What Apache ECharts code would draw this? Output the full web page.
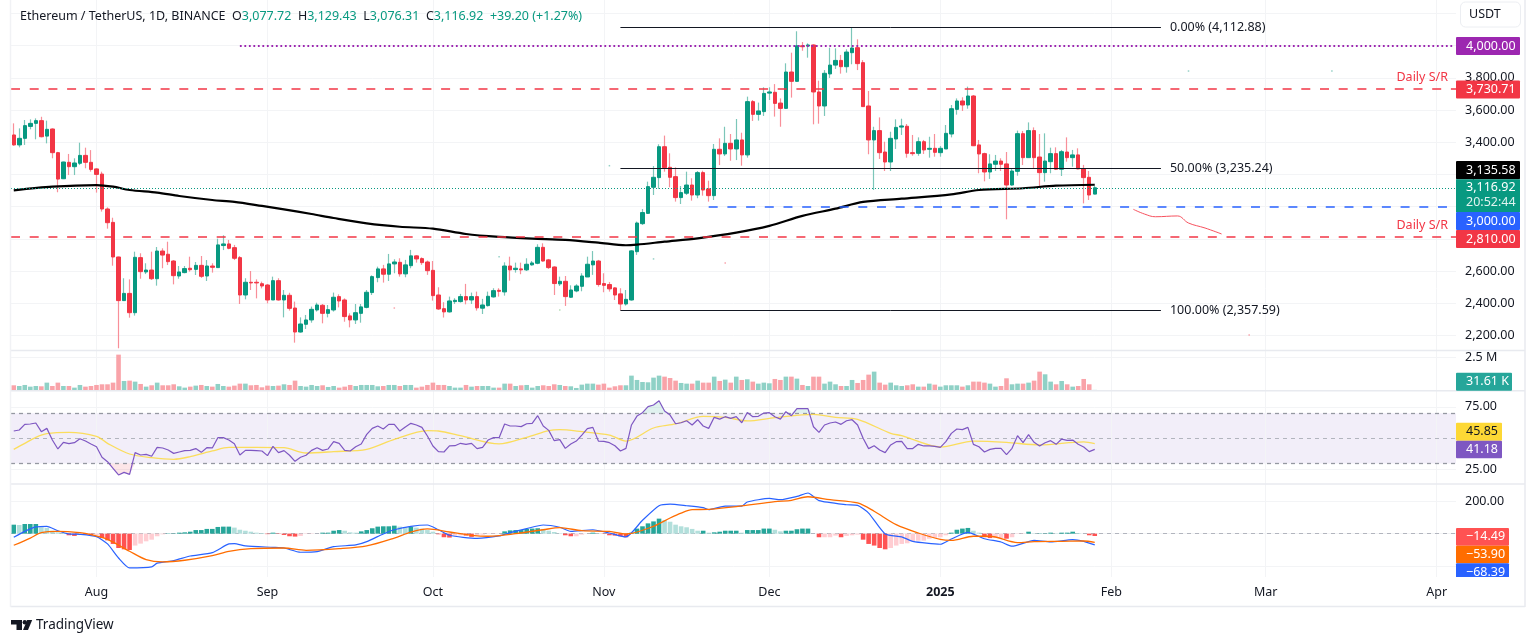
<!DOCTYPE html>
<html>
<head>
<meta charset="utf-8">
<title>ETHUSDT</title>
<script src="https://cdn.jsdelivr.net/npm/echarts@6/dist/echarts.min.js"></script>
<style>
html,body{margin:0;padding:0;background:#fff}
#chart{width:1536px;height:644px}
</style>
</head>
<body>
<div id="chart"></div>
<script>
// open, close, low, high - one row per day from 2024-07-17
let candles = [
[3445,3383,3378,3517],[3383,3424,3368,3486],[3424,3503,3383,3538],[3498,3517,3480,3542],[3517,3534,3418,3548],
[3534,3434,3430,3558],[3438,3480,3393,3534],[3482,3335,3300,3486],[3335,3171,3089,3340],[3173,3277,3171,3279],
[3275,3248,3196,3327],[3248,3271,3196,3300],[3269,3318,3258,3397],[3318,3275,3238,3366],[3275,3231,3217,3351],
[3234,3200,3087,3238],[3202,2985,2969,3217],[2985,2900,2863,2995],[2902,2687,2633,2931],[2687,2416,2120,2689],
[2416,2461,2414,2555],[2461,2341,2310,2548],[2341,2685,2323,2720],[2683,2596,2552,2710],[2594,2606,2581,2648],
[2606,2552,2544,2720],[2552,2724,2509,2749],[2724,2699,2617,2741],[2704,2658,2637,2782],[2662,2571,2517,2668],
[2569,2594,2552,2631],[2590,2615,2586,2631],[2617,2608,2596,2689],[2610,2635,2575,2656],[2635,2567,2557,2693],
[2569,2631,2538,2668],[2631,2623,2590,2648],[2621,2762,2621,2801],[2758,2768,2730,2822],[2768,2741,2735,2793],
[2745,2679,2668,2762],[2683,2451,2395,2693],[2451,2530,2424,2555],[2530,2526,2482,2600],[2530,2526,2430,2548],
[2521,2507,2492,2534],[2513,2420,2399,2519],[2420,2540,2420,2565],[2540,2420,2416,2555],[2420,2449,2312,2482],
[2449,2368,2354,2465],[2370,2221,2155,2410],[2221,2271,2217,2312],[2269,2296,2240,2327],[2296,2362,2279,2379],
[2358,2389,2348,2403],[2387,2337,2275,2395],[2337,2360,2312,2389],[2358,2437,2348,2466],[2441,2414,2374,2455],
[2420,2317,2285,2430],[2321,2296,2250,2337],[2296,2341,2271,2395],[2337,2377,2279,2395],[2374,2468,2368,2482],
[2466,2565,2451,2573],[2559,2613,2530,2627],[2613,2580,2528,2638],[2580,2644,2538,2706],[2644,2656,2586,2673],
[2654,2582,2565,2679],[2582,2638,2561,2669],[2633,2694,2617,2731],[2694,2675,2652,2698],[2677,2652,2638,2685],
[2656,2602,2576,2665],[2604,2447,2416,2662],[2451,2364,2358,2499],[2366,2346,2311,2406],[2346,2414,2342,2441],
[2410,2418,2395,2431],[2410,2441,2404,2458],[2441,2420,2393,2520],[2420,2441,2395,2466],[2441,2371,2354,2472],
[2369,2389,2333,2427],[2385,2443,2379,2472],[2439,2478,2435,2493],[2480,2474,2441,2493],[2470,2631,2447,2654],
[2631,2607,2540,2689],[2609,2617,2590,2652],[2613,2607,2580,2652],[2607,2642,2600,2679],[2638,2650,2633,2662],
[2648,2747,2642,2766],[2747,2662,2658,2772],[2669,2621,2613,2675],[2625,2522,2451,2629],[2520,2536,2507,2565],
[2536,2441,2383,2569],[2437,2482,2433,2511],[2476,2507,2468,2518],[2505,2569,2474,2586],[2563,2642,2563,2689],
[2638,2662,2576,2724],[2662,2516,2503,2669],[2522,2511,2468,2586],[2516,2489,2472,2532],[2495,2451,2420,2499],
[2458,2395,2356,2493],[2395,2424,2385,2482],[2420,2725,2416,2729],[2720,2898,2700,2907],[2894,2963,2886,2985],
[2958,3124,2954,3155],[3120,3182,3072,3252],[3180,3372,3110,3387],[3372,3242,3217,3441],[3244,3182,3120,3331],
[3186,3056,3031,3244],[3056,3087,3016,3128],[3083,3134,3072,3217],[3134,3072,3037,3176],[3072,3211,3052,3221],
[3211,3103,3068,3223],[3110,3068,3031,3161],[3068,3356,3041,3389],[3356,3327,3258,3424],[3327,3393,3314,3496],
[3393,3358,3285,3451],[3358,3414,3289,3544],[3414,3321,3254,3459],[3321,3652,3304,3683],[3652,3573,3532,3662],
[3573,3594,3534,3646],[3590,3703,3563,3741],[3705,3712,3662,3741],[3710,3641,3559,3761],[3643,3610,3496,3672],
[3610,3836,3606,3890],[3836,3778,3677,3956],[3778,3999,3776,4089],[3999,3993,3968,4022],[3997,4004,3925,4014],
[4004,3712,3511,4008],[3712,3625,3515,3782],[3625,3828,3563,3848],[3824,3879,3799,3987],[3879,3908,3855,3983],
[3908,3869,3826,3942],[3869,3960,3832,3977],[3956,3985,3884,4113],[3987,3888,3848,4039],[3894,3621,3621,3910],
[3625,3414,3325,3718],[3414,3472,3103,3496],[3472,3335,3296,3554],[3339,3277,3221,3403],[3277,3424,3221,3465],
[3420,3492,3358,3542],[3494,3501,3445,3546],[3499,3331,3304,3513],[3335,3329,3316,3445],[3331,3403,3316,3430],
[3403,3352,3327,3414],[3356,3362,3304,3434],[3362,3337,3310,3451],[3335,3362,3310,3376],[3358,3455,3358,3507],
[3451,3608,3430,3631],[3604,3656,3571,3672],[3656,3631,3594,3679],[3631,3687,3608,3745],[3687,3378,3376,3693],
[3383,3327,3207,3414],[3329,3215,3157,3335],[3215,3265,3172,3325],[3263,3283,3221,3321],[3283,3263,3221,3300],
[3265,3134,2921,3339],[3134,3221,3130,3238],[3219,3453,3192,3472],[3453,3304,3258,3470],[3304,3472,3304,3523],
[3472,3304,3234,3492],[3308,3211,3124,3451],[3211,3283,3155,3455],[3279,3329,3207,3366],[3329,3232,3227,3368],
[3232,3341,3190,3352],[3339,3304,3279,3430],[3304,3321,3248,3352],[3321,3234,3232,3362],[3234,3180,3020,3259],
[3182,3072,3041,3221],[3077.72,3116.92,3076.31,3129.43]
]

// 200 day moving average, read at these day positions
let emaDays = [0,7,15,18,21,26,30,36,40,45,49,54,58,64,70,76,82,88,94,100,106,111,113,118,124,131,137,143,149,154,161,170,175,183,189,196]
let emaValues = [3101,3124,3134,3124,3103,3087,3066,3041,3029,3004,2983,2954,2929,2896,2875,2863,2830,2812,2801,2793,2776,2760,2764,2782,2803,2838,2880,2942,2987,3029,3049,3076,3103,3114,3130,3135.58]

// volume in thousands
let volumes = [379,328,404,278,328,303,581,328,581,328,328,202,404,278,328,404,455,455,581,2702,
707,732,657,480,278,379,581,379,379,455,303,202,278,354,404,328,278,480,328,278,
354,505,505,379,404,227,354,328,354,455,404,732,328,278,404,328,379,253,328,202,
278,404,328,404,404,404,303,328,404,404,328,404,404,202,278,404,581,404,404,328,
202,202,404,278,328,328,328,202,202,505,505,328,379,404,202,328,379,328,455,404,
328,303,177,429,505,505,429,505,202,303,379,379,1111,783,631,606,960,1111,1035,934,
732,556,505,505,732,581,581,1035,707,808,581,1035,783,833,657,505,581,530,859,783,
1035,1035,884,404,328,1035,1035,505,657,455,328,328,783,556,783,1187,1414,581,429,581,
379,328,379,455,278,278,505,429,278,379,379,379,278,379,657,657,581,505,278,328,
909,455,505,505,581,732,1414,1212,657,455,707,455,278,328,859,455,31.61]

let rsiValues = [55.8,56.6,61.1,61.4,62.2,55.3,57.9,48.6,41.5,46.8,45.7,46.5,49.7,47.8,45.5,43.3,34.9,31.4,26.1,20.8,
22.9,21.3,38.6,36.7,37.2,35.7,42.8,42.3,40.7,38.0,39.1,40.2,40.4,41.8,38.8,42.5,42.3,50.5,50.5,48.6,
45.7,36.7,40.4,40.4,40.2,39.9,36.2,43.6,38.6,40.2,36.5,31.7,34.9,36.5,40.4,42.5,40.4,41.5,47.3,46.0,
40.4,39.9,43.3,45.5,53.1,57.9,59.8,57.4,61.1,61.1,55.8,59.0,61.9,60.6,58.7,51.8,43.9,39.4,39.1,43.9,
44.1,46.0,45.2,46.0,41.8,42.8,48.6,50.5,50.5,61.4,59.8,59.8,59.3,61.6,61.9,68.0,59.8,56.3,48.1,48.9,
42.0,45.5,47.8,52.6,57.7,58.7,47.8,47.6,46.5,44.1,39.9,42.0,60.6,67.7,70.4,75.2,76.5,79.9,71.7,68.5,
61.6,62.4,64.0,60.6,64.8,59.8,57.9,66.7,65.3,67.2,65.9,67.2,62.4,70.6,67.2,67.5,70.1,70.4,67.2,65.3,
71.2,68.0,73.6,73.6,73.6,59.2,54.7,60.6,62.2,63.0,61.1,64.0,64.8,60.6,50.0,41.8,44.1,40.7,38.6,44.7,
47.3,47.6,41.8,41.8,45.2,43.9,43.9,43.6,42.8,47.3,53.9,57.4,56.9,58.7,45.2,43.3,39.1,41.2,42.0,42.0,
37.0,42.0,52.1,46.5,52.9,46.8,43.9,46.5,48.1,45.2,49.4,48.4,48.6,45.2,43.1,39.4,41.18]

let rsiMaDays = [0,2,4,6,10,15,17,21,25,29,32,36,39,44,49,53,58,64,69,75,77,81,88,93,97,99,103,108,111,116,120,125,129,133,138,145,149,153,159,161,168,174,180,186,194,196]
let rsiMaValues = [41.2,46.0,50.8,53.7,54.7,51.6,46.0,37.5,34.6,33.3,35.4,39.9,42.8,42.8,42.5,38.3,39.4,41.2,49.2,56.1,55.8,52.1,45.5,50.8,56.1,56.9,55.3,52.6,47.8,58.2,61.4,67.5,66.7,63.8,66.4,69.1,66.7,65.1,53.9,52.1,43.1,47.8,46.8,44.7,47.1,45.85]

let macdHist = [55,53,59,59,59,39,35,18,8,4,-10,-14,-4,-6,-10,-10,-27,-41,-63,-88,
-96,-100,-73,-61,-47,-37,-16,-4,2,2,6,8,12,22,22,29,29,41,43,43,
37,24,18,12,6,4,-3,6,-2,-8,-16,-18,-14,-2,-2,0,6,6,18,22,
18,8,6,14,22,33,43,45,45,49,43,39,43,37,31,22,12,-4,-22,-24,
-12,-10,-12,-20,-10,-6,-2,-2,0,14,20,22,22,29,31,33,29,18,10,2,
-10,-16,-16,-6,0,6,2,-2,-10,-12,-16,-22,6,31,45,63,75,92,82,73,
55,45,39,29,18,18,6,8,12,18,18,18,6,22,22,22,31,31,24,14,
18,18,27,31,31,0,-22,-22,-22,-12,-22,-14,-10,-6,-37,-63,-73,-88,-96,-88,
-73,-63,-59,-47,-43,-43,-31,-27,-22,-10,6,24,31,35,18,6,-22,-27,-27,-27,
-31,-22,-2,-2,12,2,2,2,6,2,6,6,12,4,0,-10,-14.49]

let macdDays = [0,2,4,6,8,10,12,15,17,19,21,25,26,29,32,36,39,40,42,47,49,52,55,58,62,64,67,69,72,75,77,79,84,88,90,93,96,99,101,105,108,111,114,117,119,122,125,126,129,132,133,137,139,142,144,146,151,153,155,158,161,163,168,170,173,176,179,181,185,188,192,194,196]
let macdValues = [-22,14,41,45,18,-2,-4,-18,-63,-149,-210,-204,-181,-165,-137,-116,-63,-61,-75,-84,-88,-114,-110,-80,-69,-49,-2,24,45,53,24,-10,-29,-14,6,31,53,39,14,24,4,-20,82,171,181,171,159,147,169,169,194,216,208,228,249,202,177,173,126,-2,-20,-47,-65,-33,8,-31,-51,-77,-41,-51,-37,-47,-68.39]

let signalDays = [0,3,5,8,12,14,17,21,24,27,31,36,39,43,49,53,59,64,69,72,75,79,83,86,91,96,99,103,108,111,116,119,121,123,126,131,138,141,144,148,153,156,160,164,168,170,174,177,182,185,190,194,196]
let signalValues = [-71,-27,6,14,6,-6,-35,-108,-159,-173,-163,-135,-108,-92,-88,-102,-92,-75,-27,10,29,10,-10,-16,0,24,37,18,14,-2,45,96,126,147,149,165,196,204,226,208,188,137,55,4,-35,-41,-16,-16,-55,-49,-47,-45,-53.9]

// freehand red stroke near the 3,000 level
let strokeDays = [203,205,207,211,213,216,219]
let strokeValues = [2983,2954,2937,2942,2898,2867,2830]

// stray pixels left on the picture
let tealSpecks = [[213,3842],[239,3842],[108,3254],[88,2689],[116,2675]]
let redSpecks = [[69,2370],[224,2202],[129,2650]]
let greenSpecks = [[99,2358]]

let priceTicks = {min:2200,max:4200,step:200}
let fibLevels = [['0.00%',4112.88],['50.00%',3235.24],['100.00%',2357.59]]
let monthNames = ['2025','Feb','Mar','Apr','May','Jun','Jul','Aug','Sep','Oct','Nov','Dec']
let lastPrice = 3116.92
let resistance = 3730.71
let support = 2810
let blueLevel = 3000
let purpleLevel = 4000

// 262 daily slots: 197 with data, the rest is the empty space on the right
let days = []
for(let i=0;i<262;i++){
    days.push(new Date(Date.UTC(2024,6,17+i)))
}
let dayNames = days.map(d=>d.toISOString().slice(0,10))

const FONT = '"Noto Sans", sans-serif'
const TEXT = '#131722'
const UP = '#089981'
const DOWN = '#f23645'
const GRID = '#f3f4f6'

let lastDay = dayNames.length-1
let fibStart = 110
let fibEnd = 208

function pairs(xs,ys){
    return xs.map((x,i)=>[x,ys[i]])
}
function money(v){
    return v.toLocaleString('en-US',{minimumFractionDigits:2,maximumFractionDigits:2})
}
function histColor(v,i){
    let prev = i>0?macdHist[i-1]:0
    if(v>=0) return v>=prev?'#26a69a':'#b2dfdb'
    return v<prev?'#ff5252':'#ffcdd2'
}

// labels on the price scale, drawn by hand like the TradingView tags
function badge(text,color,top,h,w,textColor){
    return {
        type:'group',z:100,
        children:[
            {type:'rect',z:100,shape:{x:1456,y:top,width:w,height:h,r:1},style:{fill:color}},
            {type:'text',z:101,style:{x:1466,y:top+h/2,text:text,fill:textColor||'#fff',font:'12.5px '+FONT,verticalAlign:'middle'}}
        ]
    }
}
function sepLine(x1,y1,x2,y2,color){
    return {type:'line',z:50,shape:{x1:x1,y1:y1,x2:x2,y2:y2},style:{stroke:color||'#e8eaef',lineWidth:1.5}}
}

let panes = [
    {left:11,width:1445,top:0,height:577},
    {left:11,width:1445,top:13.4,height:322},
    {left:11,width:1445,top:357.3,height:33},
    {left:11,width:1445,top:406.9,height:62.8},
    {left:11,width:1445,top:501,height:65.3}
]

function hiddenX(g){
    return {type:'category',gridIndex:g,data:dayNames,show:false}
}
function valueY(g,min,max,step,fmt){
    return {
        type:'value',gridIndex:g,position:'right',min:min,max:max,interval:step,scale:false,
        axisLine:{show:false},axisTick:{show:false},
        axisLabel:{color:TEXT,fontFamily:FONT,fontSize:12.5,margin:9,formatter:fmt},
        splitLine:{show:true,lineStyle:{color:GRID,width:1}}
    }
}

let option = {
    animation:false,
    backgroundColor:'#fff',
    title:{
        left:15,top:5,
        text:'{n|Ethereum / TetherUS, 1D, BINANCE}  {n|O}{v|3,077.72}  {n|H}{v|3,129.43}  {n|L}{v|3,076.31}  {n|C}{v|3,116.92}  {v|+39.20 (+1.27%)}',
        textStyle:{
            fontFamily:FONT,fontWeight:'normal',fontSize:12.5,
            rich:{
                n:{color:TEXT,fontFamily:FONT,fontSize:12.5},
                v:{color:UP,fontFamily:FONT,fontSize:12.5}
            }
        }
    },
    grid:panes,
    xAxis:[
        {
            type:'category',gridIndex:0,data:dayNames,
            axisLine:{show:false},
            axisTick:{
                show:true,inside:true,length:577,alignWithLabel:true,
                interval:i=>days[i].getUTCDate()==1,
                lineStyle:{color:GRID,width:1}
            },
            axisLabel:{
                color:TEXT,fontFamily:FONT,fontSize:12.5,margin:9,
                interval:i=>days[i].getUTCDate()==1,
                formatter:(v,i)=>{
                    let m = days[i].getUTCMonth()
                    return m==0?'{b|'+monthNames[0]+'}':monthNames[m]
                },
                rich:{b:{fontWeight:'bold',color:TEXT,fontFamily:FONT,fontSize:12.5}}
            },
            splitLine:{show:false}
        },
        hiddenX(1),hiddenX(2),hiddenX(3),hiddenX(4)
    ],
    yAxis:[
        {type:'value',gridIndex:0,show:false,min:0,max:1,splitLine:{show:false}},
        valueY(1,priceTicks.min,priceTicks.max,priceTicks.step,v=>v>=4000?'':money(v)),
        valueY(2,0,2500,2500,v=>v?'2.5 M':''),
        valueY(3,25,75,50,v=>money(v)),
        valueY(4,-200,200,200,v=>v==200?money(v):'')
    ],
    series:[
        // wicks
        {
            type:'candlestick',xAxisIndex:1,yAxisIndex:1,barWidth:1,clip:false,z:2,
            itemStyle:{color:'#7cc6b9',color0:'#f88f99',borderColor:'#7cc6b9',borderColor0:'#f88f99',borderWidth:1.2},
            data:candles
        },
        // bodies
        {
            type:'candlestick',xAxisIndex:1,yAxisIndex:1,barWidth:4,clip:false,z:3,
            itemStyle:{color:UP,color0:DOWN,borderColor:UP,borderColor0:DOWN,borderWidth:1},
            data:candles.map(c=>[c[0],c[1],Math.min(c[0],c[1]),Math.max(c[0],c[1])])
        },
        // 200 day average + levels + fib lines
        {
            type:'line',xAxisIndex:1,yAxisIndex:1,data:pairs(emaDays,emaValues),smooth:0.3,symbol:'none',z:4,clip:false,
            lineStyle:{color:'#000',width:2.2},
            markLine:{
                silent:true,symbol:'none',z:5,animation:false,precision:2,
                data:[
                    {yAxis:resistance,lineStyle:{color:DOWN,width:1.5,type:[9,9.7]},label:{show:true,position:'insideEndTop',formatter:'Daily S/R',color:DOWN,fontFamily:FONT,fontSize:12.5,distance:[8,5]}},
                    {yAxis:support,lineStyle:{color:DOWN,width:1.5,type:[9,9.7]},label:{show:true,position:'insideEndTop',formatter:'Daily S/R',color:DOWN,fontFamily:FONT,fontSize:12.5,distance:[8,5]}},
                    {yAxis:lastPrice,lineStyle:{color:UP,width:1,type:[1,2]},label:{show:false}},
                    [{coord:[41,purpleLevel],lineStyle:{color:'#9c27b0',width:1.8,type:[1.8,2.7]},label:{show:false}},{coord:[lastDay,purpleLevel]}],
                    [{coord:[126,blueLevel],lineStyle:{color:'#2962ff',width:1.5,type:[9,9.7]},label:{show:false}},{coord:[lastDay,blueLevel]}]
                ].concat(fibLevels.map(f=>[
                    {
                        coord:[fibStart,f[1]],
                        lineStyle:{color:TEXT,width:1,type:'solid'},
                        label:{show:true,position:'end',distance:9,formatter:f[0]+' ('+money(f[1])+')',color:TEXT,fontFamily:FONT,fontSize:12.5}
                    },
                    {coord:[fibEnd,f[1]]}
                ]))
            }
        },
        {
            type:'line',xAxisIndex:1,yAxisIndex:1,data:pairs(strokeDays,strokeValues),smooth:0.4,symbol:'none',z:4,
            lineStyle:{color:'#f7525f',width:1}
        },
        {type:'scatter',xAxisIndex:1,yAxisIndex:1,data:tealSpecks,symbol:'rect',symbolSize:1.5,itemStyle:{color:'#7cc6b9'},z:2},
        {type:'scatter',xAxisIndex:1,yAxisIndex:1,data:redSpecks,symbol:'rect',symbolSize:1.5,itemStyle:{color:'#f88f99'},z:2},
        {type:'scatter',xAxisIndex:1,yAxisIndex:1,data:greenSpecks,symbol:'rect',symbolSize:1.5,itemStyle:{color:'#a5d6a7'},z:2},
        // volume
        {
            type:'bar',xAxisIndex:2,yAxisIndex:2,barWidth:4.6,clip:false,
            data:volumes.map((v,i)=>({
                value:v,
                itemStyle:{color:candles[i][1]>=candles[i][0]?'#8fd1c6':'#f9a3a9'}
            }))
        },
        // rsi
        {
            type:'line',xAxisIndex:3,yAxisIndex:3,data:rsiValues.map(v=>Math.min(v,30)),symbol:'none',clip:false,z:1,
            lineStyle:{opacity:0},areaStyle:{origin:30,color:'rgba(242,54,69,0.18)'}
        },
        {
            type:'line',xAxisIndex:3,yAxisIndex:3,data:rsiValues.map(v=>Math.max(v,70)),symbol:'none',clip:false,z:1,
            lineStyle:{opacity:0},areaStyle:{origin:70,color:'rgba(8,153,129,0.18)'}
        },
        {
            type:'line',xAxisIndex:3,yAxisIndex:3,data:pairs(rsiMaDays,rsiMaValues),smooth:0.3,symbol:'none',clip:false,z:3,
            lineStyle:{color:'#fdd835',width:1.3,opacity:.8}
        },
        {
            type:'line',xAxisIndex:3,yAxisIndex:3,data:rsiValues,symbol:'none',clip:false,z:4,
            lineStyle:{color:'#7e57c2',width:1.2},
            markArea:{silent:true,z:0,itemStyle:{color:'rgba(126,87,194,0.1)'},data:[[{yAxis:70},{yAxis:30}]]},
            markLine:{
                silent:true,symbol:'none',z:2,animation:false,label:{show:false},
                data:[
                    {yAxis:70,lineStyle:{color:'#9598a1',width:1.3,type:[4,4]}},
                    {yAxis:50,lineStyle:{color:'#b2b5be',width:1,type:[4,4]}},
                    {yAxis:30,lineStyle:{color:'#9598a1',width:1.3,type:[4,4]}}
                ]
            }
        },
        // macd
        {
            type:'bar',xAxisIndex:4,yAxisIndex:4,barWidth:4.6,clip:false,
            data:macdHist.map((v,i)=>({value:v,itemStyle:{color:histColor(v,i)}})),
            markLine:{
                silent:true,symbol:'none',z:2,animation:false,label:{show:false},
                data:[{yAxis:0,lineStyle:{color:'#b2b5be',width:1,type:[4,4]}}]
            }
        },
        {
            type:'line',xAxisIndex:4,yAxisIndex:4,data:pairs(macdDays,macdValues),smooth:0.2,symbol:'none',clip:false,z:3,
            lineStyle:{color:'#2962ff',width:1.2}
        },
        {
            type:'line',xAxisIndex:4,yAxisIndex:4,data:pairs(signalDays,signalValues),smooth:0.3,symbol:'none',clip:false,z:4,
            lineStyle:{color:'#ff6d00',width:1.3}
        }
    ],
    graphic:[
        // pane borders
        sepLine(11,350.5,1525,350.5),
        sepLine(11,390.7,1525,390.7),
        sepLine(11,484,1525,484),
        sepLine(10.5,606.5,1525,606.5),
        sepLine(1525,0,1525,607),
        sepLine(10.5,0,10.5,607,'#f1f2f5'),
        // currency button
        {type:'rect',z:60,shape:{x:1460.5,y:2,width:60,height:25,r:5},style:{fill:'#fff',stroke:'#eceef2',lineWidth:1}},
        {type:'text',z:61,style:{x:1469,y:14.5,text:'USDT',fill:TEXT,font:'12.5px '+FONT,verticalAlign:'middle'}},
        // price tags
        badge('4,000.00','#9c27b0',37,18,64),
        badge('3,730.71',DOWN,80.5,18,64),
        badge('3,135.58','#000',161,18.3,64),
        {type:'rect',z:100,shape:{x:1456,y:179.3,width:64,height:33},style:{fill:UP}},
        {type:'text',z:101,style:{x:1466,y:187.5,text:'3,116.92',fill:'#fff',font:'12.5px '+FONT,verticalAlign:'middle'}},
        {type:'text',z:101,style:{x:1466,y:202.5,text:'20:52:44',fill:'#dff3ef',font:'12.5px '+FONT,verticalAlign:'middle'}},
        badge('3,000.00','#2962ff',212,18,64),
        badge('2,810.00',DOWN,230,18,64),
        badge('31.61 K','#26a69a',372.7,18,56),
        badge('45.85','#fdd835',422.7,18,46,TEXT),
        badge('41.18','#7e57c2',440.7,17.6,46),
        badge('\u221214.49','#ff5252',528,17.7,53),
        badge('\u221253.90','#ff6d00',545.7,17.6,53),
        badge('\u221268.39','#2962ff',563.3,18,53),
        {type:'rect',z:102,shape:{x:1456,y:577,width:68,height:9},style:{fill:'#fff'}},
        // logo
        {type:'polygon',z:60,shape:{points:[[11,620],[22,620],[22,630],[16.5,630],[16.5,624.6],[11,624.6]]},style:{fill:TEXT}},
        {type:'circle',z:60,shape:{cx:24.8,cy:622.2,r:2.2},style:{fill:TEXT}},
        {type:'polygon',z:60,shape:{points:[[27.2,620],[32.2,620],[28,630],[23,630]]},style:{fill:TEXT}},
        {type:'text',z:60,style:{x:36,y:625.5,text:'TradingView',fill:TEXT,font:'13.5px '+FONT,verticalAlign:'middle'}}
    ]
}

let mychart = echarts.init(document.getElementById('chart'),null,{width:1536,height:644})
mychart.setOption(option)
</script>
</body>
</html>
